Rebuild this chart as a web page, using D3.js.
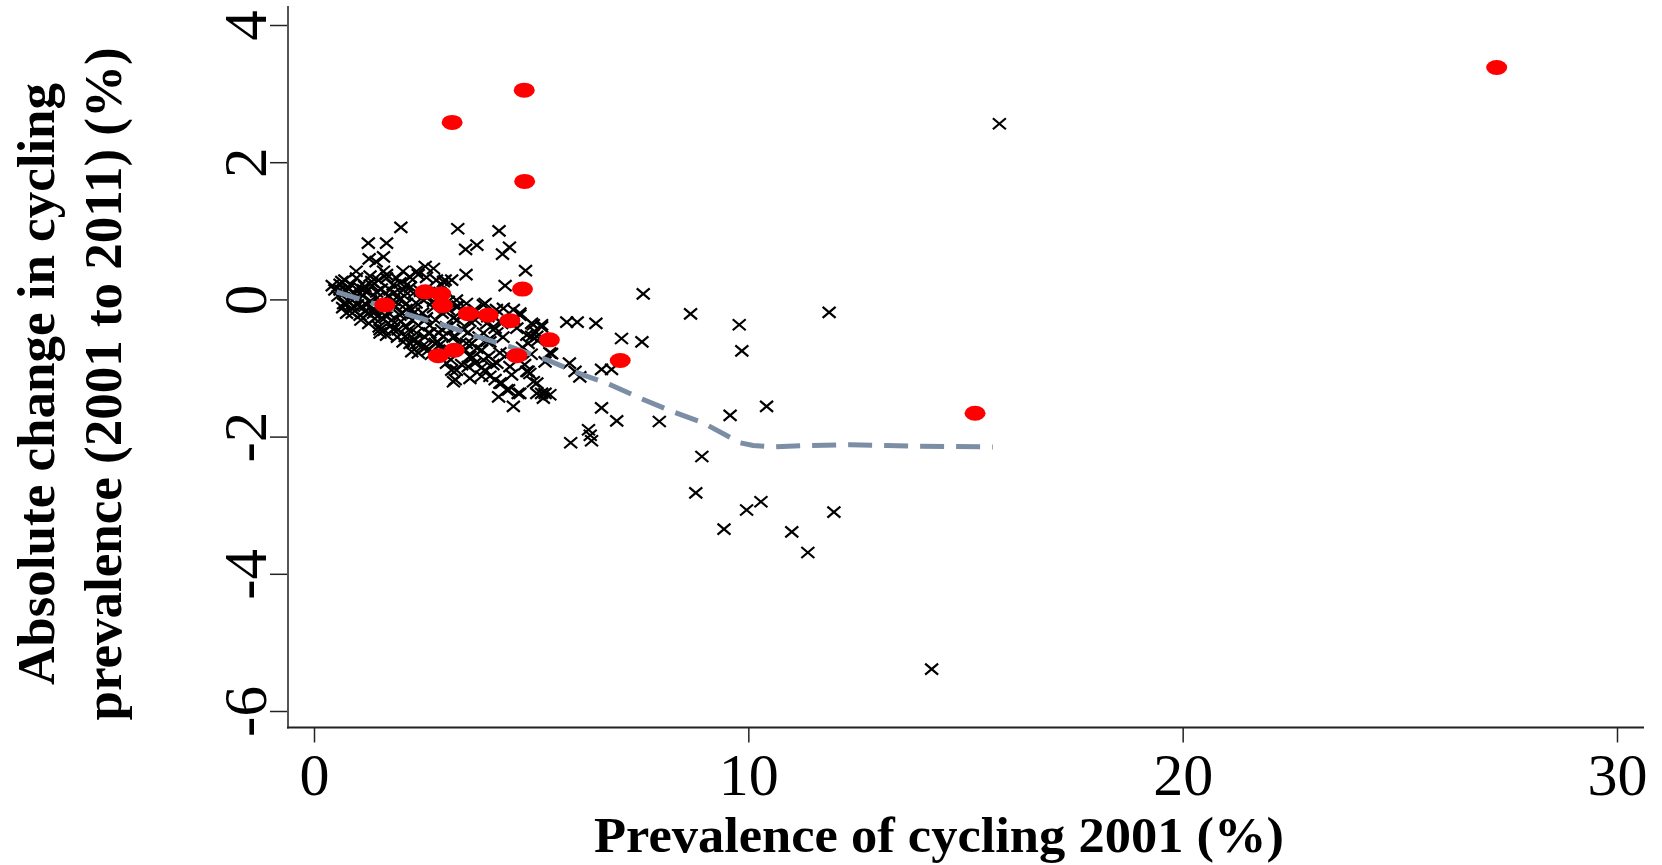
<!DOCTYPE html>
<html>
<head>
<meta charset="utf-8">
<script src="https://cdn.jsdelivr.net/npm/d3@7"></script>
<style>
  body { margin: 0; background: #fff; }
  svg { display: block; font-family: "Liberation Serif", "Times New Roman", serif; }
</style>
</head>
<body>
<div id="chart"></div>
<script>
// areas not highlighted: [prevalence 2001, absolute change]
const otherAreas = [
  // outliers / right side
  [11.86,-0.19],[9.79,-0.37],[9.85,-0.75],[10.42,-1.56],[9.58,-1.69],[8.93,-2.29],[8.79,-2.82],
  [10.29,-2.95],[9.96,-3.07],[9.44,-3.35],[11.97,-3.10],[11.0,-3.39],[11.37,-3.69],[14.22,-5.39],
  [15.78,2.56],[7.58,0.08],[8.67,-0.21],
  [5.24,-0.37],[5.82,-0.33],[6.06,-0.33],[6.49,-0.35],[7.08,-0.57],[7.55,-0.62],[5.47,-0.79],
  [5.88,-0.93],[6.01,-1.05],[6.12,-1.13],[6.62,-1.02],[6.85,-1.02],[5.32,-1.37],[5.43,-1.39],
  [5.28,-1.44],[6.62,-1.58],[6.97,-1.77],[7.95,-1.78],[6.32,-1.90],[6.36,-1.98],[6.39,-2.06],[5.91,-2.09],
  // upper part of the cluster
  [2.00,1.05],[3.31,1.03],[4.26,1.00],[1.25,0.82],[1.67,0.82],[3.49,0.73],[3.75,0.79],[4.50,0.76],
  [4.34,0.66],[1.27,0.59],[1.60,0.62],[1.43,0.55],[3.50,0.36],[4.87,0.42],[4.40,0.20],[2.56,0.48],
  [2.75,0.45],[2.36,0.41],[0.97,0.41],[1.60,0.41],[0.64,0.26],[0.48,0.14],[1.67,0.36],[1.90,0.31],
  [2.20,0.33],[0.79,0.16],[1.33,0.26],[1.17,0.19],[1.82,0.21],[2.13,0.21],[0.94,0.09],[2.05,0.41],
  [3.02,0.28],[2.94,0.21],[3.28,-0.01],[3.94,-0.06],
  // dense band
  [0.71,0.28],[0.98,0.31],[1.29,0.34],[1.48,0.28],[1.67,0.31],[1.98,0.24],[2.21,0.32],[2.40,0.36],
  [2.59,0.32],[2.82,0.28],[2.98,0.26],[3.17,0.28],
  [0.60,0.14],[0.91,0.09],[1.14,0.14],[1.44,0.11],[1.75,0.14],[2.06,0.14],[2.29,0.09],
  [0.68,-0.06],[0.91,-0.10],[1.21,-0.08],[1.52,-0.06],[1.83,-0.01],[2.13,-0.06],[2.52,-0.01],
  [2.75,-0.03],[3.28,-0.10],[3.51,-0.06],[3.90,-0.08],[4.36,-0.13],
  [0.75,-0.20],[1.06,-0.23],[1.37,-0.20],[1.67,-0.25],[1.98,-0.23],[2.29,-0.20],[2.59,-0.27],
  [3.21,-0.27],[3.59,-0.32],[3.98,-0.35],[4.28,-0.32],[4.74,-0.20],[5.05,-0.37],
  [1.52,-0.49],[1.83,-0.44],[2.13,-0.40],[2.36,-0.49],[2.67,-0.49],[2.98,-0.54],[3.44,-0.44],
  [3.90,-0.49],[4.21,-0.49],[4.67,-0.42],[4.90,-0.52],[5.13,-0.54],
  [2.36,-0.64],[2.59,-0.69],[2.90,-0.66],[3.13,-0.74],[3.51,-0.64],[3.75,-0.71],[3.98,-0.61],
  [4.28,-0.78],[5.43,-0.78],
  [3.05,-0.93],[3.28,-1.03],[3.59,-0.83],[3.90,-0.88],[4.21,-0.93],[4.51,-0.98],[4.90,-1.05],
  [4.97,-1.08],[5.13,-1.22],
  [3.21,-1.20],[3.59,-1.15],[4.05,-1.12],[4.28,-1.22],[4.44,-1.32],[4.74,-1.37],[5.13,-1.37],[4.59,-1.56],
  [0.71,-0.06],[0.87,-0.13],[1.10,-0.10],[1.25,-0.20],[1.40,-0.15],[1.56,-0.27],[1.79,-0.30],
  [1.52,-0.44],[1.67,-0.52],[1.94,-0.44],[2.10,-0.54],[2.21,-0.64],[2.33,-0.59],[2.48,-0.69],
  [2.25,-0.76],[2.40,-0.78],[2.63,-0.74],[2.79,-0.64],[2.87,-0.49],[2.63,-0.49],[2.56,-0.30],
  [2.02,-0.20],[2.25,-0.15],
  [3.09,-0.03],[3.32,-0.10],[3.71,-0.30],[4.17,-0.42],[4.32,-0.35],[4.59,-0.15],[4.74,-0.23],
  [5.01,-0.35],[5.24,-0.40],[5.09,-0.47],[4.93,-0.64],[5.01,-0.54],[5.32,-0.91],[2.94,-0.44],
  [3.25,-0.54],[3.48,-0.74],[3.63,-0.64],[3.86,-0.74],[4.02,-0.83],[3.71,-0.93],[3.94,-1.03],
  [3.17,-1.03],[3.25,-1.17],[3.55,-0.98],[3.86,-1.12],[4.17,-1.17],[4.32,-1.22],[4.48,-1.32],
  [4.93,-1.05],[5.05,-1.20],[5.24,-1.37],[4.70,-1.37],[4.25,-1.42],
  [0.42,0.20],[0.55,0.05],[0.60,0.22],[0.66,-0.12],[0.74,0.12],[0.78,-0.02],[0.85,0.22],[0.88,-0.20],
  [0.95,0.02],[1.00,-0.08],[1.03,0.18],[1.08,-0.30],[1.12,0.05],[1.18,-0.18],[1.22,0.12],[1.26,-0.35],
  [1.30,-0.02],[1.34,0.20],[1.40,-0.28],[1.45,0.02],[1.50,-0.40],[1.55,0.15],[1.58,-0.12],[1.62,-0.45],
  [1.70,0.05],[1.72,-0.20],[1.78,-0.38],[1.85,0.10],[1.88,-0.10],[1.92,-0.55],[1.96,0.00],[2.00,-0.32],
  [2.05,-0.62],[2.08,0.05],[2.12,-0.15],[2.18,-0.45],[2.22,0.18],[2.26,-0.30],[2.30,-0.58],[2.35,-0.05],
  [2.40,-0.38],[2.45,0.12],[2.50,-0.20],[2.55,-0.55],[2.60,0.02],[2.66,-0.38],[2.70,-0.80],[2.75,-0.12],
  [2.80,-0.30],[2.85,-0.62],[2.90,0.10],[2.95,-0.20],[3.00,-0.75],[3.05,-0.40],[3.10,-0.15],[3.15,-0.88],
  [3.20,-0.55],[3.30,-0.30],[3.35,-0.65],[3.40,-0.95],[3.45,-0.20],[3.55,-0.48],[3.65,-0.85],[3.70,-0.15],
  [3.80,-0.55],[3.85,-1.00],[4.00,-0.25],[4.05,-0.62],[4.12,-0.95],[4.20,-0.15],[4.35,-0.55],[4.45,-0.80],
  [4.55,-1.10],[4.62,-0.30],[4.80,-0.70],[4.85,-0.95],[5.00,-0.80],[5.15,-0.60]
];

// highlighted areas (red dots)
const highlightAreas = [
  [3.18,2.58],[4.84,3.05],[4.85,1.72],[27.23,3.38],[15.22,-1.66],[7.05,-0.89],[5.42,-0.59],
  [1.63,-0.08],[2.56,0.11],[2.92,0.08],[2.96,-0.09],[3.55,-0.21],[4.01,-0.23],[4.51,-0.31],
  [4.80,0.15],[4.67,-0.82],[2.86,-0.82],[3.23,-0.74]
];

// smoothed fit (dashed line)
const lowessFit = [
  [0.52,0.11],[0.98,0.02],[2.21,-0.23],[2.97,-0.37],[3.75,-0.54],[4.51,-0.69],[5.36,-0.88],
  [6.19,-1.10],[6.74,-1.22],[7.51,-1.44],[8.27,-1.64],[8.96,-1.80],[9.81,-2.09],[10.11,-2.13],
  [10.57,-2.15],[11.34,-2.13],[12.34,-2.12],[13.19,-2.13],[13.95,-2.14],[15.63,-2.15]
];

const xTicks = [0, 10, 20, 30];
const yTicks = [-6, -4, -2, 0, 2, 4];
const xTitle = "Prevalence of cycling 2001 (%)";
const yTitle = ["Absolute change in cycling", "prevalence (2001 to 2011) (%)"];

const width  = 1662;
const height = 865;

const svg = d3.select("#chart")
  .append("svg")
  .attr("width", width)
  .attr("height", height);

const x = d3.scaleLinear().domain([0, 30]).range([314, 1617]);
const y = d3.scaleLinear().domain([-6, 4]).range([711, 25]);

const axisX0 = 288;   // y axis line position
const axisY0 = 727.5; // x axis line position

// axes
const yAxis = d3.axisLeft(y)
  .tickValues(yTicks)
  .tickSize(18)
  .tickFormat(d3.format("d"));

const yAxisG = svg.append("g")
  .attr("transform", `translate(${axisX0},0)`)
  .call(yAxis);

yAxisG.select(".domain").remove();
yAxisG.selectAll(".tick line").attr("stroke", "#222").attr("stroke-width", 1.5);
yAxisG.selectAll(".tick text")
  .attr("transform", "rotate(-90)")
  .attr("x", 0)
  .attr("y", -22)
  .attr("dy", 0)
  .attr("text-anchor", "middle")
  .attr("font-family", "Liberation Serif")
  .attr("font-size", 61)
  .attr("fill", "#000")
  .text(d => String(d));

const xAxis = d3.axisBottom(x)
  .tickValues(xTicks)
  .tickSize(15)
  .tickFormat(d3.format("d"));

const xAxisG = svg.append("g")
  .attr("transform", `translate(0,${axisY0})`)
  .call(xAxis);

xAxisG.select(".domain").remove();
xAxisG.selectAll(".tick line").attr("stroke", "#222").attr("stroke-width", 1.5);
xAxisG.selectAll(".tick text")
  .attr("y", 67.5)
  .attr("dy", 0)
  .attr("text-anchor", "middle")
  .attr("font-family", "Liberation Serif")
  .attr("font-size", 60)
  .attr("fill", "#000");

svg.append("line")
  .attr("x1", axisX0).attr("x2", axisX0)
  .attr("y1", 6).attr("y2", axisY0 + 1)
  .attr("stroke", "#555").attr("stroke-width", 2);

svg.append("line")
  .attr("x1", axisX0 - 1).attr("x2", 1644)
  .attr("y1", axisY0).attr("y2", axisY0)
  .attr("stroke", "#222").attr("stroke-width", 2);

// crosses
svg.append("g")
  .selectAll("path")
  .data(otherAreas)
  .enter()
  .append("path")
  .attr("transform", d => `translate(${x(d[0])},${y(d[1])})`)
  .attr("d", "M-6.5,-5.5L6.5,5.5M-6.5,5.5L6.5,-5.5")
  .attr("stroke", "#000")
  .attr("stroke-width", 2.2)
  .attr("fill", "none");

// smoothed line
const line = d3.line()
  .x(d => x(d[0]))
  .y(d => y(d[1]));

svg.append("path")
  .datum(lowessFit)
  .attr("d", line)
  .attr("fill", "none")
  .attr("stroke", "#7b8ea6")
  .attr("stroke-width", 5)
  .attr("stroke-dasharray", "24,12");

// red dots
svg.append("g")
  .selectAll("ellipse")
  .data(highlightAreas)
  .enter()
  .append("ellipse")
  .attr("cx", d => x(d[0]))
  .attr("cy", d => y(d[1]))
  .attr("rx", 10.5)
  .attr("ry", 7.5)
  .attr("fill", "#ff0000");

// titles
svg.append("text")
  .attr("x", 939)
  .attr("y", 852)
  .attr("text-anchor", "middle")
  .attr("font-weight", "bold")
  .attr("font-size", 50)
  .attr("textLength", 690)
  .attr("lengthAdjust", "spacingAndGlyphs")
  .text(xTitle);

const yT = svg.append("text")
  .attr("transform", "translate(0,384) rotate(-90)")
  .attr("text-anchor", "middle")
  .attr("font-weight", "bold")
  .attr("font-size", 53);

yT.selectAll("tspan")
  .data(yTitle)
  .enter()
  .append("tspan")
  .attr("x", 0)
  .attr("y", (d, i) => i === 0 ? 54 : 121)
  .text(d => d);
</script>
</body>
</html>
